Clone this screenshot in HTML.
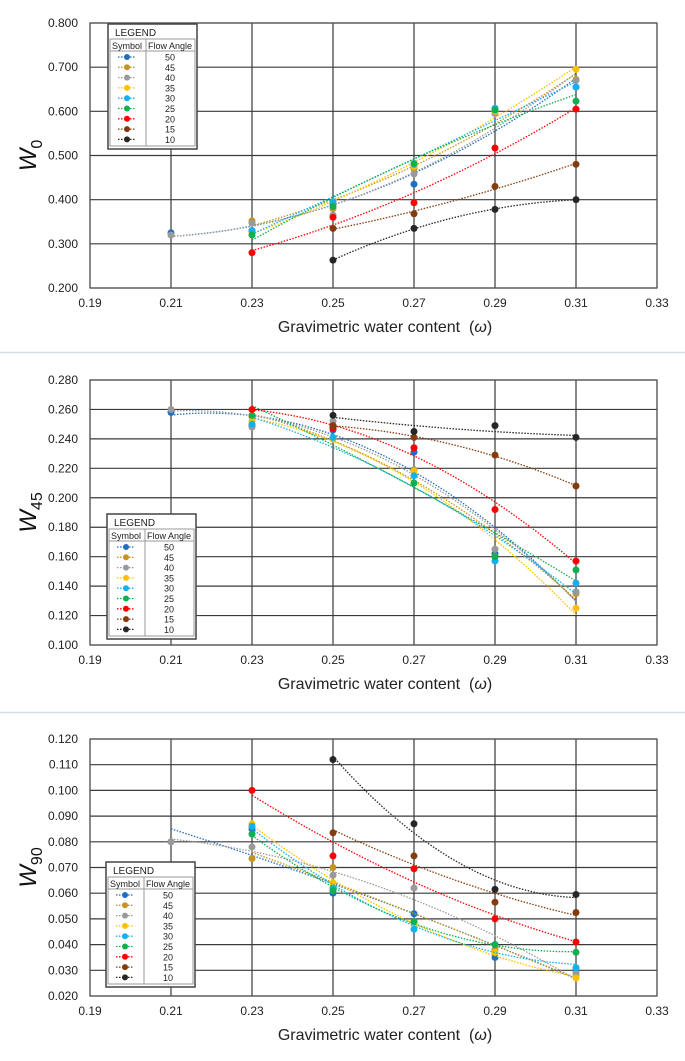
<!DOCTYPE html>
<html><head><meta charset="utf-8">
<style>
html,body{margin:0;padding:0;background:#fff;}
svg{display:block;font-family:"Liberation Sans",sans-serif;}
</style></head>
<body>
<svg id="root" width="685" height="1061" viewBox="0 0 685 1061" xmlns="http://www.w3.org/2000/svg">
<line x1="0" y1="352.5" x2="685" y2="352.5" stroke="#d6dbe8" stroke-width="1.5"/>
<line x1="0" y1="712.5" x2="685" y2="712.5" stroke="#d6dbe8" stroke-width="1.5"/>
</svg>
<script>
const xCategories = [0.21, 0.23, 0.25, 0.27, 0.29, 0.31];
const xTicks = [0.19, 0.21, 0.23, 0.25, 0.27, 0.29, 0.31, 0.33];
const angles = [50, 45, 40, 35, 30, 25, 20, 15, 10];
const colors = ["#1f6fc0","#c59420","#9a9a9a","#ffc000","#14b0ee","#10b050","#ff0000","#843c0c","#262626"];

const w0Ticks = [0.2,0.3,0.4,0.5,0.6,0.7,0.8];
const w0_50 = [0.325,0.330,0.390,0.435,0.600,0.655];
const w0_45 = [null,0.352,0.380,0.470,0.600,0.672];
const w0_40 = [0.320,0.347,0.365,0.458,0.595,0.670];
const w0_35 = [null,0.325,0.395,0.475,0.600,0.695];
const w0_30 = [null,0.330,0.395,0.480,0.607,0.655];
const w0_25 = [null,0.320,0.385,0.482,0.603,0.623];
const w0_20 = [null,0.280,0.360,0.393,0.517,0.605];
const w0_15 = [null,null,0.335,0.368,0.430,0.480];
const w0_10 = [null,null,0.263,0.335,0.378,0.400];

const w45Ticks = [0.10,0.12,0.14,0.16,0.18,0.20,0.22,0.24,0.26,0.28];
const w45_50 = [0.258,0.249,0.246,0.231,0.162,0.136];
const w45_45 = [null,0.255,0.240,0.219,0.165,0.135];
const w45_40 = [0.260,0.248,0.252,0.219,0.165,0.136];
const w45_35 = [null,0.252,0.240,0.218,0.160,0.125];
const w45_30 = [null,0.250,0.241,0.215,0.157,0.142];
const w45_25 = [null,0.256,0.248,0.210,0.160,0.151];
const w45_20 = [null,0.260,0.247,0.234,0.192,0.157];
const w45_15 = [null,null,0.249,0.241,0.229,0.208];
const w45_10 = [null,null,0.256,0.245,0.249,0.241];

const w90Ticks = [0.02,0.03,0.04,0.05,0.06,0.07,0.08,0.09,0.10,0.11,0.12];
const w90_50 = [0.080,0.085,0.060,0.052,0.035,0.030];
const w90_45 = [null,0.0735,0.070,0.049,0.038,0.028];
const w90_40 = [0.080,0.078,0.067,0.062,0.037,0.029];
const w90_35 = [null,0.087,0.064,0.048,0.037,0.027];
const w90_30 = [null,0.086,0.062,0.046,0.040,0.031];
const w90_25 = [null,0.083,0.061,0.049,0.040,0.037];
const w90_20 = [null,0.100,0.0745,0.0695,0.050,0.041];
const w90_15 = [null,null,0.0835,0.0745,0.0565,0.0525];
const w90_10 = [null,null,0.112,0.087,0.0615,0.0595];

const NS="http://www.w3.org/2000/svg";
const root=document.getElementById('root');
function mk(tag,attrs,parent){const e=document.createElementNS(NS,tag);for(const k in attrs)e.setAttribute(k,attrs[k]);(parent||root).appendChild(e);return e;}

function quadFit(xs,ys){
  let S=[0,0,0,0,0],T=[0,0,0];
  for(let i=0;i<xs.length;i++){const x=xs[i]-0.26,y=ys[i];let p=1;for(let k=0;k<5;k++){S[k]+=p;if(k<3)T[k]+=p*y;p*=x;}}
  const A=[[S[0],S[1],S[2],T[0]],[S[1],S[2],S[3],T[1]],[S[2],S[3],S[4],T[2]]];
  for(let i=0;i<3;i++){let m=i;for(let r=i+1;r<3;r++)if(Math.abs(A[r][i])>Math.abs(A[m][i]))m=r;[A[i],A[m]]=[A[m],A[i]];
    for(let r=0;r<3;r++){if(r===i)continue;const f=A[r][i]/A[i][i];for(let c=i;c<4;c++)A[r][c]-=f*A[i][c];}}
  const c=[A[0][3]/A[0][0],A[1][3]/A[1][1],A[2][3]/A[2][2]];
  return x=>{const d=x-0.26;return c[0]+c[1]*d+c[2]*d*d;};
}

function drawChart(cfg){
  const g=mk('g',{});
  
  
  const L=90,R=657,T=cfg.top,B=cfg.bottom;
  const ymin=cfg.yTicks[0],ymax=cfg.yTicks[cfg.yTicks.length-1];
  const sx=v=>L+(v-0.19)/(0.33-0.19)*(R-L);
  const sy=v=>B-(v-ymin)/(ymax-ymin)*(B-T);
  cfg.yTicks.forEach(t=>{
    const ln=mk('line',{x1:L,x2:R,y1:sy(t),y2:sy(t),stroke:'#3a3a3a','stroke-width':1.2},g);
    
    
    const tx=mk('text',{x:L-12,y:sy(t)+4,'text-anchor':'end','font-size':12,fill:'#222'},g);
    
    
    tx.textContent=t.toFixed(3);
  });
  xTicks.forEach(t=>{
    const ln=mk('line',{x1:sx(t),x2:sx(t),y1:T,y2:B,stroke:'#3a3a3a','stroke-width':1.2},g);
    
    
    const tx=mk('text',{x:sx(t),y:B+19,'text-anchor':'middle','font-size':12,fill:'#222'},g);
    
    
    tx.textContent=t.toFixed(2);
  });
  const fr=mk('rect',{x:L,y:T,width:R-L,height:B-T,fill:'none',stroke:'#555','stroke-width':1.2},g);
  
  
  const xt=mk('text',{x:385,y:B+44,'text-anchor':'middle','font-size':16,fill:'#222'},g);
  
  
  xt.innerHTML='Gravimetric water content&#160;&#160;(<tspan font-style="italic">ω</tspan>)';
  const yt=mk('text',{x:0,y:0,'text-anchor':'middle','font-size':24,fill:'#111',transform:`translate(36,${(T+B)/2}) rotate(-90)`},g);
  
  
  yt.innerHTML=`<tspan font-style="italic">W</tspan><tspan font-size="16" dy="6">${cfg.sub}</tspan>`;
  cfg.series.forEach((vals,si)=>{
    const sg=mk('g',{},g);
    
    
    const xs=[],ys=[];
    vals.forEach((v,i)=>{if(v!==null){xs.push(xCategories[i]);ys.push(v);}});
    const f=quadFit(xs,ys);
    const x0=Math.min(...xs),x1=Math.max(...xs);
    let d='';
    for(let k=0;k<=40;k++){const x=x0+(x1-x0)*k/40;d+=(k?'L':'M')+sx(x).toFixed(1)+','+sy(f(x)).toFixed(1);}
    const tl=mk('path',{d:d,fill:'none',stroke:colors[si],'stroke-width':1.3,'stroke-dasharray':'1.5,1.5'},sg);
    
    
    vals.forEach((v,i)=>{if(v===null)return;
      const c=mk('circle',{cx:sx(xCategories[i]),cy:sy(v),r:3.5,fill:colors[si]},sg);
      
      
    });
  });
  const lx=cfg.leg[0],ly=cfg.leg[1],lw=89,lh=125;
  const lg=mk('g',{},g);
  
  
  mk('rect',{x:lx,y:ly,width:lw,height:lh,fill:'#fff',stroke:'#444','stroke-width':1.5},lg);
  const t1=mk('text',{x:lx+7,y:ly+12,'font-size':10,fill:'#222'},lg);t1.textContent='LEGEND';
  const hy=ly+15;
  mk('line',{x1:lx+2,x2:lx+lw-2,y1:hy,y2:hy,stroke:'#999'},lg);
  mk('line',{x1:lx+2,x2:lx+lw-2,y1:hy+12,y2:hy+12,stroke:'#999'},lg);
  mk('line',{x1:lx+38,x2:lx+38,y1:hy,y2:ly+lh-3,stroke:'#999'},lg);
  mk('rect',{x:lx+2,y:hy,width:lw-4,height:lh-18,fill:'none',stroke:'#999'},lg);
  const h1=mk('text',{x:lx+4,y:hy+10,'font-size':9,fill:'#222'},lg);h1.textContent='Symbol';
  const h2=mk('text',{x:lx+40,y:hy+10,'font-size':9,fill:'#222'},lg);h2.textContent='Flow Angle';
  angles.forEach((a,i)=>{
    const ry=hy+18+i*10.3;
    const le=mk('g',{},lg);
    
    
    mk('line',{x1:lx+10,x2:lx+28,y1:ry,y2:ry,stroke:colors[i],'stroke-width':1.3,'stroke-dasharray':'1.5,1.5'},le);
    mk('circle',{cx:lx+19,cy:ry,r:3,fill:colors[i]},le);
    const tx=mk('text',{x:lx+62,y:ry+3.5,'text-anchor':'middle','font-size':9,fill:'#222'},le);tx.textContent=a;
  });
}

drawChart({name:'chart-w0',top:23,bottom:288,sub:'0',yTicks:w0Ticks,leg:[108,24],
  series:[w0_50,w0_45,w0_40,w0_35,w0_30,w0_25,w0_20,w0_15,w0_10]});
drawChart({name:'chart-w45',top:380,bottom:645,sub:'45',yTicks:w45Ticks,leg:[107,514],
  series:[w45_50,w45_45,w45_40,w45_35,w45_30,w45_25,w45_20,w45_15,w45_10]});
drawChart({name:'chart-w90',top:739,bottom:996,sub:'90',yTicks:w90Ticks,leg:[106,862],
  series:[w90_50,w90_45,w90_40,w90_35,w90_30,w90_25,w90_20,w90_15,w90_10]});
</script>
</body></html>
